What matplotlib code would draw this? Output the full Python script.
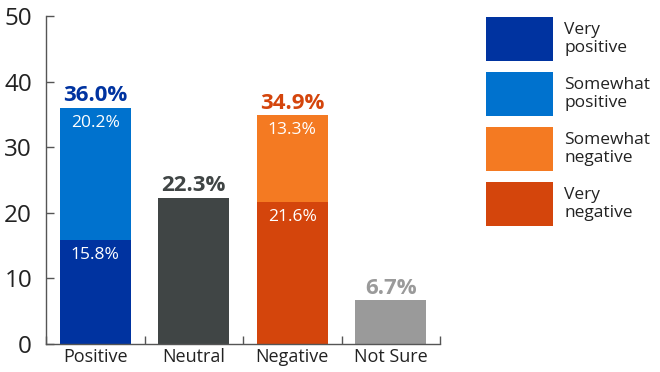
import matplotlib
matplotlib.use("Agg")
import matplotlib.pyplot as plt
from matplotlib.patches import Rectangle
import numpy as np

categories = ["Positive", "Neutral", "Negative", "Not Sure"]
# stacked components
very_positive = [15.8, 0, 0, 0]
somewhat_positive = [20.2, 0, 0, 0]
neutral = [0, 22.3, 0, 0]
very_negative = [0, 0, 21.6, 0]
somewhat_negative = [0, 0, 13.3, 0]
not_sure = [0, 0, 0, 6.7]
totals = [36.0, 22.3, 34.9, 6.7]
total_labels = ["36.0%", "22.3%", "34.9%", "6.7%"]
yticks = [0, 10, 20, 30, 40, 50]
legend_labels = ["Very\npositive", "Somewhat\npositive", "Somewhat\nnegative", "Very\nnegative"]

c_vpos = "#0033A0"
c_spos = "#0072CE"
c_sneg = "#F47A22"
c_vneg = "#D4450C"
c_neu = "#404545"
c_ns = "#9A9A9A"
total_colors = [c_vpos, c_neu, c_vneg, c_ns]
legend_colors = [c_vpos, c_spos, c_sneg, c_vneg]

plt.rcParams["font.family"] = ["Open Sans", "DejaVu Sans"]

W, H = 660, 372
fig = plt.figure(figsize=(6.6, 3.72), dpi=100)
ax = fig.add_axes([46/W, 28/H, (440-46)/W, (344-16)/H])

x = np.arange(len(categories))
w = 0.72
ax.bar(x, very_positive, w, color=c_vpos)
ax.bar(x, somewhat_positive, w, bottom=very_positive, color=c_spos)
ax.bar(x, very_negative, w, color=c_vneg)
ax.bar(x, somewhat_negative, w, bottom=very_negative, color=c_sneg)
ax.bar(x, neutral, w, color=c_neu)
ax.bar(x, not_sure, w, color=c_ns)

def inner(vals, bottoms):
    for xi, v, b in zip(x, vals, bottoms):
        if v > 0:
            ax.annotate(f"{v:.1f}%", (xi, b + v), xytext=(0, -5), textcoords="offset points",
                        ha="center", va="top", color="white", fontsize=12.5)

inner(very_positive, [0]*4)
inner(somewhat_positive, very_positive)
inner(very_negative, [0]*4)
inner(somewhat_negative, very_negative)

for xi, t, lab, col in zip(x, totals, total_labels, total_colors):
    ax.annotate(lab, (xi, t), xytext=(0, 1), textcoords="offset points",
                ha="center", va="bottom", color=col, fontsize=16, fontweight="bold")

ax.set_xlim(-0.5, 3.5)
ax.set_ylim(0, 50)
ax.set_yticks(yticks)
ax.set_yticklabels([str(v) for v in yticks], fontsize=17.5, color="#222222")
ax.tick_params(axis="y", direction="in", length=6, width=1, color="#555555", pad=10)
ax.set_xticks(np.arange(-0.5, 4.0, 1.0), minor=False)
ax.set_xticklabels([])
ax.tick_params(axis="x", which="major", direction="in", length=6, width=1, color="#555555")
ax.set_xticks(x, minor=True)
ax.set_xticklabels(categories, minor=True, fontsize=13, color="#222222")
ax.tick_params(axis="x", which="minor", length=0, pad=3)
for s in ["top", "right"]:
    ax.spines[s].set_visible(False)
for s in ["left", "bottom"]:
    ax.spines[s].set_color("#555555")
    ax.spines[s].set_linewidth(1)

# legend drawn as boxes with centred two-line labels
box_x0, box_x1 = 486, 553
box_h, box_step, box_top = 44, 55, 17
for i, (lab, col) in enumerate(zip(legend_labels, legend_colors)):
    top = box_top + i * box_step
    fig.patches.append(Rectangle((box_x0/W, 1 - (top + box_h)/H), (box_x1 - box_x0)/W, box_h/H,
                                 transform=fig.transFigure, facecolor=col, edgecolor="none"))
    fig.text(564/W, 1 - (top + box_h/2)/H, lab, ha="left", va="center", fontsize=12.5,
             color="#222222", linespacing=1.2)

fig.savefig("out.png", dpi=100)
